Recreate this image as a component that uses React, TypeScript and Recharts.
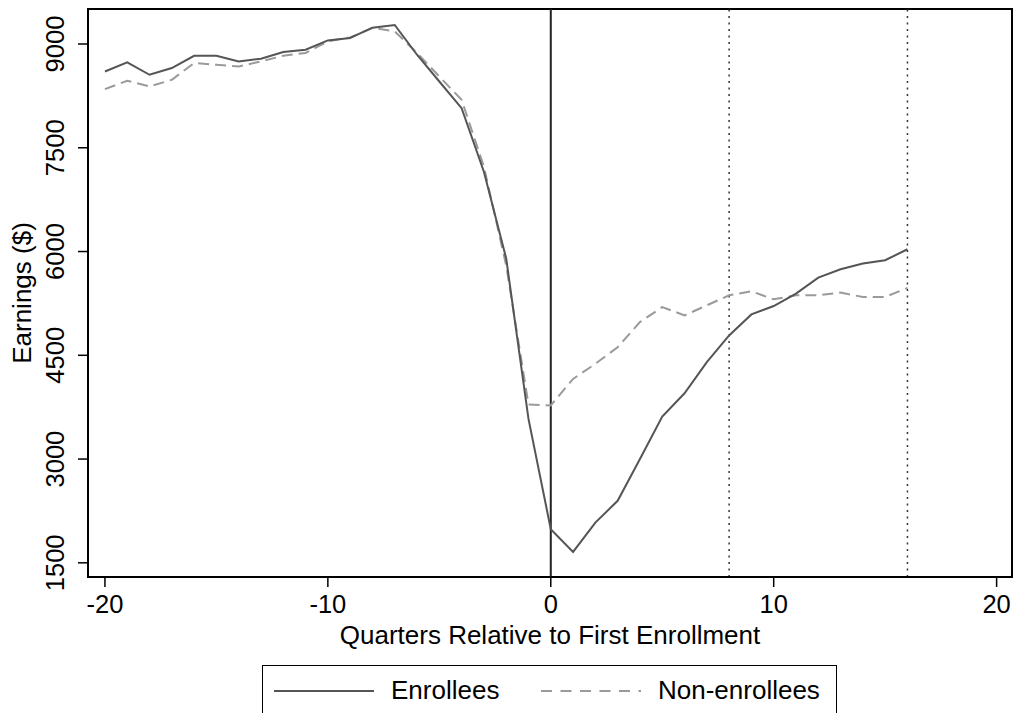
import React from 'react'
import { LineChart, Line, XAxis, YAxis, ReferenceLine, ReferenceArea } from 'recharts'

const quarters = [
  -20, -19, -18, -17, -16, -15, -14, -13, -12, -11, -10, -9, -8, -7, -6, -5, -4, -3, -2, -1,
  0, 1, 2, 3, 4, 5, 6, 7, 8, 9, 10, 11, 12, 13, 14, 15, 16,
]
const enrollees = [
  8603, 8734, 8555, 8652, 8830, 8830, 8748, 8787, 8884, 8917, 9052, 9087, 9236, 9275, 8845, 8458,
  8072, 7154, 5900, 3580, 1986, 1657, 2082, 2396, 3000, 3613, 3951, 4400, 4787, 5091, 5212, 5391,
  5623, 5743, 5826, 5874, 6033,
]
const nonEnrollees = [
  8348, 8468, 8386, 8483, 8725, 8700, 8675, 8748, 8830, 8870, 9038, 9096, 9232, 9183, 8870, 8530,
  8193, 7226, 5800, 3788, 3775, 4159, 4377, 4617, 4980, 5197, 5077, 5222, 5367, 5425, 5309, 5367,
  5367, 5406, 5343, 5343, 5473,
]
const xTicks = [-20, -10, 0, 10, 20]
const yTicks = [1500, 3000, 4500, 6000, 7500, 9000]
const xDomain = [-20.76, 20.69]
const yDomain = [1295, 9506]

const data = quarters.map((q, i) => ({ q, enrollees: enrollees[i], nonEnrollees: nonEnrollees[i] }))

const FONT = '"Liberation Sans", Arial, Helvetica, sans-serif'

const XTick = (props: any) => {
  const { x, payload } = props
  return (
    <text x={x} y={613} textAnchor="middle" fontSize={25.5} fontFamily={FONT} fill="#000">
      {payload.value}
    </text>
  )
}

const YTick = (props: any) => {
  const { y, payload } = props
  return (
    <text
      x={64}
      y={y}
      transform={`rotate(-90, 64, ${y})`}
      textAnchor="middle"
      fontSize={25.5}
      fontFamily={FONT}
      fill="#000"
    >
      {payload.value}
    </text>
  )
}

const YTitle = (props: any) => {
  const vb = props.viewBox || { y: 9, height: 568 }
  const cy = vb.y + vb.height / 2
  return (
    <text
      x={31}
      y={cy}
      transform={`rotate(-90, 31, ${cy})`}
      textAnchor="middle"
      fontSize={26}
      fontFamily={FONT}
      fill="#000"
    >
      Earnings ($)
    </text>
  )
}

export default function App() {
  return (
    <div style={{ position: 'absolute', left: 0, top: 0, width: 1015, height: 713, overflow: 'hidden', background: '#fff' }}>
      <LineChart width={1015} height={713} data={data} margin={{ top: 9, right: 3, left: 0, bottom: 0 }}>
        <XAxis
          type="number"
          dataKey="q"
          domain={xDomain}
          ticks={xTicks}
          allowDataOverflow
          height={136}
          tickSize={10}
          tickLine={{ stroke: '#000', strokeWidth: 1.5 }}
          axisLine={{ stroke: '#000', strokeWidth: 2 }}
          tick={<XTick />}
          label={{
            value: 'Quarters Relative to First Enrollment',
            position: 'insideTop',
            dy: 44,
            fontSize: 26,
            fontFamily: FONT,
            fill: '#000',
          }}
        />
        <YAxis
          type="number"
          domain={yDomain}
          ticks={yTicks}
          allowDataOverflow
          width={88}
          tickSize={10}
          tickLine={{ stroke: '#000', strokeWidth: 1.5 }}
          axisLine={{ stroke: '#000', strokeWidth: 2 }}
          tick={<YTick />}
          label={<YTitle />}
        />
        <ReferenceArea
          x1={xDomain[0]}
          x2={xDomain[1]}
          y1={yDomain[0]}
          y2={yDomain[1]}
          fill="none"
          stroke="#000"
          strokeWidth={2}
          ifOverflow="visible"
        />
        <ReferenceLine x={0} stroke="#222" strokeWidth={2} />
        <ReferenceLine x={8} stroke="#333" strokeWidth={1.5} strokeDasharray="2 4.5" />
        <ReferenceLine x={16} stroke="#333" strokeWidth={1.5} strokeDasharray="2 4.5" />
        <Line
          type="linear"
          dataKey="nonEnrollees"
          stroke="#9a9a9a"
          strokeWidth={2}
          strokeDasharray="11 6"
          dot={false}
          isAnimationActive={false}
        />
        <Line
          type="linear"
          dataKey="enrollees"
          stroke="#555"
          strokeWidth={2}
          dot={false}
          isAnimationActive={false}
        />
      </LineChart>
      <div
        style={{
          position: 'absolute',
          left: 262,
          top: 665,
          width: 575,
          height: 70,
          border: '1.5px solid #000',
          boxSizing: 'border-box',
          fontFamily: FONT,
          fontSize: 26,
          color: '#000',
        }}
      >
        <svg width={575} height={70} style={{ position: 'absolute', left: 0, top: 0 }}>
          <line x1={11} y1={25} x2={111} y2={25} stroke="#555" strokeWidth={2} />
          <text x={128} y={33} fontSize={26} fontFamily={FONT} fill="#000">Enrollees</text>
          <line x1={278} y1={25} x2={378} y2={25} stroke="#9a9a9a" strokeWidth={2} strokeDasharray="11 8.5" />
          <text x={395} y={33} fontSize={26} fontFamily={FONT} fill="#000">Non-enrollees</text>
        </svg>
      </div>
    </div>
  )
}
